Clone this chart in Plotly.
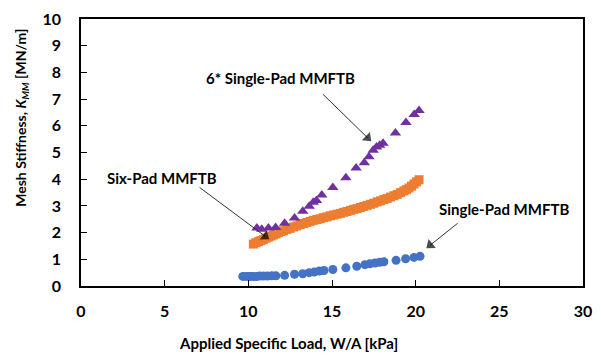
import plotly.graph_objects as go

# Single-Pad MMFTB measured mesh stiffness
single_x = [9.67, 9.85, 10.02, 10.17, 10.32, 10.5, 10.67, 10.9, 11.14, 11.4, 11.65, 12.17, 12.76,
            13.25, 13.64, 13.94, 14.24, 14.52, 15.05, 15.83, 16.48, 16.97, 17.26, 17.56,
            17.85, 18.1, 18.83, 19.4, 19.9, 20.26]
single_y = [0.36, 0.36, 0.36, 0.36, 0.36, 0.36, 0.37, 0.37, 0.37, 0.38, 0.38, 0.40, 0.44,
            0.46, 0.50, 0.52, 0.56, 0.58, 0.62, 0.68, 0.74, 0.80, 0.83, 0.86,
            0.89, 0.91, 0.96, 1.02, 1.07, 1.11]

# Six-Pad MMFTB measured mesh stiffness
six_x = [10.30, 10.45, 10.60, 10.75, 10.90, 11.05, 11.20, 11.35, 11.50, 11.65, 11.80, 11.95,
         12.10, 12.30, 12.50, 12.70, 12.90, 13.10, 13.30, 13.50, 13.70, 13.90, 14.10, 14.30,
         14.50, 14.70, 14.90, 15.10, 15.30, 15.50, 15.70, 15.90, 16.10, 16.30, 16.50, 16.70,
         16.90, 17.10, 17.30, 17.50, 17.70, 17.90, 18.10, 18.30, 18.50, 18.70, 18.90, 19.10,
         19.30, 19.45, 19.60, 19.75, 19.90, 20.05, 20.20]
six_y = [1.57, 1.62, 1.66, 1.70, 1.74, 1.79, 1.83, 1.87, 1.91, 1.95, 2.00, 2.04,
         2.07, 2.12, 2.16, 2.21, 2.25, 2.30, 2.34, 2.38, 2.42, 2.46, 2.49, 2.52,
         2.56, 2.59, 2.63, 2.66, 2.69, 2.72, 2.76, 2.79, 2.83, 2.87, 2.90, 2.94,
         2.98, 3.02, 3.06, 3.10, 3.15, 3.19, 3.24, 3.28, 3.33, 3.38, 3.43, 3.50,
         3.56, 3.61, 3.67, 3.74, 3.82, 3.90, 3.98]

# Six times the Single-Pad stiffness
six_single_x = [10.51, 10.8, 11.2, 11.63, 12.17, 12.76, 13.25, 13.64, 13.88, 14.07, 14.39,
                15.05, 15.83, 16.44, 16.93, 17.21, 17.46, 17.66, 17.85, 18.05, 18.79,
                19.42, 19.91, 20.2]
six_single_y = [2.17, 2.13, 2.17, 2.19, 2.35, 2.55, 2.80, 2.99, 3.14, 3.20, 3.41,
                3.69, 4.05, 4.42, 4.62, 4.84, 5.08, 5.21, 5.27, 5.35, 5.73,
                6.12, 6.42, 6.57]

x_ticks = [0, 5, 10, 15, 20, 25, 30]
y_ticks = list(range(0, 11))

FONT = "Lato"
TXT = "#000000"

fig = go.Figure()
fig.add_trace(go.Scatter(x=single_x, y=single_y, mode="markers", name="Single-Pad MMFTB",
                         marker=dict(symbol="circle", size=9, color="#4472C4")))
fig.add_trace(go.Scatter(x=six_x, y=six_y, mode="markers", name="Six-Pad MMFTB",
                         marker=dict(symbol="square", size=9, color="#ED7D31")))
fig.add_trace(go.Scatter(x=six_single_x, y=six_single_y, mode="markers",
                         name="6* Single-Pad MMFTB",
                         marker=dict(symbol="triangle-up", size=10, color="#7030A0")))

bold15 = dict(family=FONT, size=15, color=TXT, weight="bold")

# Callout labels
labels = [
    ("6* Single-Pad MMFTB", 11.9, 7.78),
    ("Six-Pad MMFTB", 4.83, 4.03),
    ("Single-Pad MMFTB", 25.3, 2.89),
]
for text, lx, ly in labels:
    fig.add_annotation(x=lx, y=ly, text=text, showarrow=False, font=bold15,
                       xref="x", yref="y")

# Callout arrows: thin leader line from tail to head, solid triangular head
arrows = [
    ((14.46, 7.18), (17.13, 5.55)),
    ((7.09, 3.69), (11.01, 1.86)),
    ((22.51, 2.35), (20.87, 1.53)),
]
for (tx, ty), (hx, hy) in arrows:
    fig.add_trace(go.Scatter(
        x=[tx, hx], y=[ty, hy], mode="lines+markers", hoverinfo="skip",
        line=dict(color="#333333", width=1),
        marker=dict(symbol=["circle", "triangle-up"], size=[0, 10], color="#000000",
                    angleref="previous", line=dict(width=0)),
    ))

# Axis titles, positioned in paper coordinates
fig.add_annotation(x=0.413, y=-0.215, xref="paper", yref="paper",
                   text="Applied Specific Load, W/A [kPa]", showarrow=False,
                   font=bold15, xanchor="center", yanchor="middle")
fig.add_annotation(x=-0.119, y=0.631, xref="paper", yref="paper",
                   text="Mesh Stiffness, <i>K</i><sub><i>MM</i></sub> [MN/m]",
                   showarrow=False, textangle=-90,
                   font=dict(family=FONT, size=14, color=TXT, weight="bold"),
                   xanchor="center", yanchor="middle")

axis_common = dict(ticks="inside", ticklen=6, tickwidth=1, tickcolor="#000000",
                   showline=True, linecolor="#000000", linewidth=1.5, mirror=True,
                   showgrid=False, zeroline=False,
                   tickfont=dict(family=FONT, size=16, color=TXT, weight="bold"))

fig.update_layout(
    width=601, height=358,
    margin=dict(l=81, r=9, t=12, b=72),
    paper_bgcolor="white", plot_bgcolor="white",
    showlegend=False,
    font=dict(family=FONT, color=TXT),
    xaxis=dict(range=[0, 30], tickvals=x_ticks, ticklabelstandoff=10, **axis_common),
    yaxis=dict(range=[0, 10], tickvals=y_ticks, ticklabelstandoff=15, **axis_common),
)

fig.write_html("out.html")
